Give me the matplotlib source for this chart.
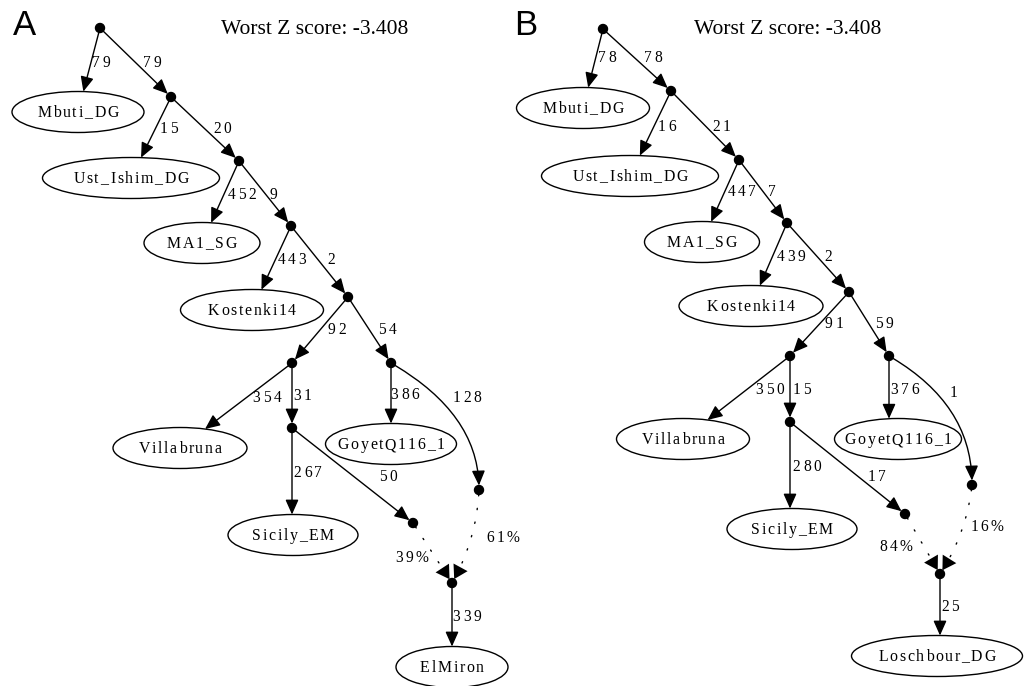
import numpy as np
import matplotlib
matplotlib.use("Agg")
import matplotlib.pyplot as plt
from matplotlib.patches import Ellipse, Circle, FancyArrowPatch, ArrowStyle
from matplotlib.font_manager import FontProperties
from matplotlib.textpath import text_to_path

W, H = 1028, 686
PT = 100 / 72  # pixels per point at dpi 100

# admixture graph topology, same for both fits
edges = [("R", "Mbuti_DG"), ("R", "n1"), ("n1", "Ust_Ishim_DG"), ("n1", "n2"),
         ("n2", "MA1_SG"), ("n2", "n3"), ("n3", "Kostenki14"), ("n3", "n4"),
         ("n4", "n5"), ("n4", "n6"), ("n5", "Villabruna"), ("n5", "n7"),
         ("n6", "GoyetQ116_1"), ("n6", "n9"), ("n7", "Sicily_EM"), ("n7", "n8"),
         ("M", "target")]
admix_edges = [("n8", "M"), ("n9", "M")]

# fit A: ElMiron
target_a = "ElMiron"
drift_a = [79, 79, 15, 20, 452, 9, 443, 2, 92, 54, 354, 31, 386, 128, 267, 50, 339]
admix_a = [39, 61]
zscore_a = -3.408

# fit B: Loschbour_DG
target_b = "Loschbour_DG"
drift_b = [78, 78, 16, 21, 447, 7, 439, 2, 91, 59, 350, 15, 376, 1, 280, 17, 25]
admix_b = [84, 16]
zscore_b = -3.408

# layouts (pixel positions)
pos_a = {"R": (100, 28), "n1": (171, 97), "n2": (239, 161), "n3": (291, 226),
         "n4": (348, 297), "n5": (292, 363), "n6": (391, 363), "n7": (292, 428),
         "n8": (413, 523), "n9": (479, 490), "M": (452, 583),
         "Mbuti_DG": (78, 112), "Ust_Ishim_DG": (131, 178), "MA1_SG": (202, 243),
         "Kostenki14": (252, 310), "Villabruna": (180, 448), "GoyetQ116_1": (391, 444),
         "Sicily_EM": (293, 535), "target": (452, 667)}
width_a = {"Mbuti_DG": 132, "Ust_Ishim_DG": 177, "MA1_SG": 116, "Kostenki14": 143,
           "Villabruna": 134, "GoyetQ116_1": 131, "Sicily_EM": 130, "target": 112}
lab_a = [(101, 62), (152, 62), (169, 128), (222, 128), (242, 194), (273, 194),
         (292, 259), (331, 259), (337, 329), (387, 329), (267, 397), (302, 395),
         (405, 394), (467, 397), (308, 472), (388, 476), (467, 616)]
admix_lab_a = [(412, 557), (503, 537)]

pos_b = {"R": (603, 29), "n1": (671, 91), "n2": (739, 160), "n3": (787, 223),
         "n4": (849, 292), "n5": (790, 356), "n6": (889, 356), "n7": (790, 422),
         "n8": (905, 514), "n9": (972, 485), "M": (940, 574),
         "Mbuti_DG": (583, 108), "Ust_Ishim_DG": (630, 176), "MA1_SG": (702, 242),
         "Kostenki14": (751, 306), "Villabruna": (683, 439), "GoyetQ116_1": (898, 439),
         "Sicily_EM": (792, 529), "target": (937, 656)}
width_b = {"Mbuti_DG": 133, "Ust_Ishim_DG": 177, "MA1_SG": 115, "Kostenki14": 144,
           "Villabruna": 133, "GoyetQ116_1": 127, "Sicily_EM": 130, "target": 171}
lab_b = [(607, 57), (653, 57), (667, 126), (721, 126), (742, 191), (772, 191),
         (791, 256), (828, 256), (834, 323), (884, 323), (770, 389), (802, 389),
         (905, 389), (953, 392), (807, 466), (877, 476), (950, 606)]
admix_lab_b = [(896, 546), (987, 526)]

ELL_H = 41
DOT_R = 4.5
LW = 1.0
SERIF = "Liberation Serif"
fp_node = FontProperties(family=SERIF, size=11.4)
fp_edge = FontProperties(family=SERIF, size=11.2)
head = ArrowStyle("-|>", head_length=0.45, head_width=0.2)
admix_head = ArrowStyle("-|>", head_length=0.4, head_width=0.24)


def spaced_text(ax, x, y, s, fp, track):
    # graphviz-like text with extra letter spacing, centred on (x, y)
    size = fp.get_size_in_points()
    widths = [text_to_path.get_text_width_height_descent(ch, fp, ismath=False)[0] * PT
              for ch in s]
    total = sum(widths) + track * (len(s) - 1)
    cx = x - total / 2
    base = y + 0.34 * size * PT
    for ch, w in zip(s, widths):
        ax.text(cx, base, ch, fontproperties=fp, ha="left", va="baseline")
        cx += w + track


def ellipse_hit(src, c, w, h):
    sx, sy = src
    dx, dy = c[0] - sx, c[1] - sy
    if abs(dx) < 12:
        # nearly straight below: drop vertically onto the ellipse
        u = (sx - c[0]) / (w / 2)
        return (sx, c[1] - h / 2 * np.sqrt(1 - u * u))
    k = np.sqrt((dx / (w / 2)) ** 2 + (dy / (h / 2)) ** 2)
    t = 1 - 1 / k
    return (sx + t * dx, sy + t * dy)


def arrow(ax, a, b, shrinkB, conn="arc3", ls="-"):
    kw = dict(arrowstyle=head, mutation_scale=20, connectionstyle=conn,
              shrinkA=DOT_R / PT, shrinkB=shrinkB, color="black")
    if ls == "-":
        ax.add_patch(FancyArrowPatch(a, b, lw=LW, **kw))
    else:
        # dotted shaft, solid filled head (no stroke, so only the head shows)
        ax.add_patch(FancyArrowPatch(a, b, lw=LW, linestyle=ls,
                                     **{**kw, "arrowstyle": "-"}))
        ax.add_patch(FancyArrowPatch(a, b, lw=0, **{**kw, "arrowstyle": admix_head,
                                                     "mutation_scale": 24}))


def draw_panel(ax, letter, letter_x, pos, widths, target, drift, admix, zscore,
               lab_pos, admix_lab_pos, title_x):
    ax.text(letter_x, 35, letter, family="Liberation Sans", fontsize=25,
            ha="left", va="baseline")
    ax.text(title_x, 30, f"Worst Z score: {zscore:.3f}", family=SERIF,
            fontsize=15.5, ha="center", va="center")

    for name, w in widths.items():
        cx, cy = pos[name]
        ax.add_patch(Ellipse((cx, cy), w, ELL_H, fill=False, lw=LW, ec="black"))
        spaced_text(ax, cx, cy, target if name == "target" else name, fp_node, 1.7)

    for name, (x, y) in pos.items():
        if name not in widths:
            ax.add_patch(Circle((x, y), DOT_R, color="black", zorder=3))

    for (u, v), d, lp in zip(edges, drift, lab_pos):
        if v in widths:
            end, sb = ellipse_hit(pos[u], pos[v], widths[v], ELL_H), 0
        else:
            end, sb = pos[v], DOT_R / PT
        conn = "angle3,angleA=-30,angleB=90" if (u, v) == ("n6", "n9") else "arc3"
        arrow(ax, pos[u], end, sb, conn)
        spaced_text(ax, lp[0], lp[1], str(d), fp_edge, 2.6)

    for (u, v), pct, lp, rad in zip(admix_edges, admix, admix_lab_pos, [0, -0.12]):
        arrow(ax, pos[u], pos[v], DOT_R / PT, f"arc3,rad={rad}", ls=(0, (1, 9)))
        spaced_text(ax, lp[0], lp[1], f"{pct}%", fp_edge, 2.6)


fig = plt.figure(figsize=(W / 100, H / 100), dpi=100)
ax = fig.add_axes([0, 0, 1, 1])
ax.set_xlim(0, W)
ax.set_ylim(H, 0)
ax.axis("off")

draw_panel(ax, "A", 13, pos_a, width_a, target_a, drift_a, admix_a, zscore_a,
           lab_a, admix_lab_a, 315)
draw_panel(ax, "B", 514, pos_b, width_b, target_b, drift_b, admix_b, zscore_b,
           lab_b, admix_lab_b, 788)

fig.savefig("out.png", dpi=100)
